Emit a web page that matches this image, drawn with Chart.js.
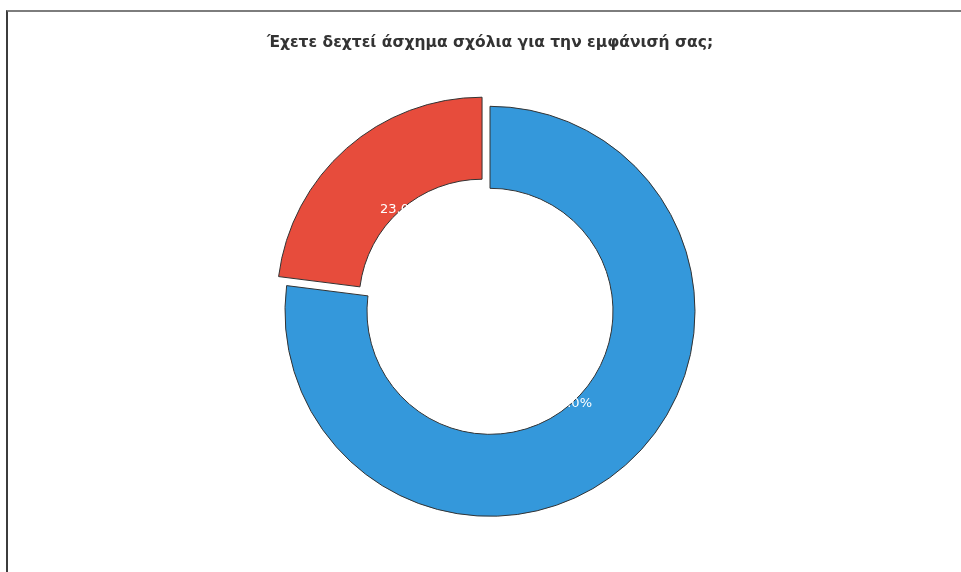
<!DOCTYPE html>
<html lang="el">
<head>
    <meta charset="UTF-8">
    <title>Σχόλια για την εμφάνιση</title>
    <style>
        body { margin: 0; background: #fff; }
        .frame {
            position: absolute;
            left: 6px;
            top: 10px;
            width: 1000px;
            height: 620px;
            border-top: 2px solid #7d7d7d;
            border-left: 2px solid #3c3c3c;
        }
        #myChart { position: absolute; left: 0; top: 0; }
    </style>
</head>
<body>
    <div class="frame"></div>
    <canvas id="myChart" width="961" height="572"></canvas>
    <script src="https://cdn.jsdelivr.net/npm/chart.js"></script>
    <script>
        // chart data
        const categories = ['Όχι', 'Ναι'];
        const values = [77.0, 23.0];
        const colors = ['#3498db', '#e74c3c'];
        const explode = [0, 48]; // chart.js arc offset (moves slice by offset/4)

        const total = values.reduce((a, b) => a + b, 0);

        // draws the % labels and then the white centre circle over them
        const pctLabels = {
            id: 'pctLabels',
            afterDatasetsDraw(chart) {
                const ctx = chart.ctx;
                const arcs = chart.getDatasetMeta(0).data;
                if (!arcs.length) return;
                const cx = arcs[0].x, cy = arcs[0].y;
                const inner = arcs[0].innerRadius;
                ctx.save();
                ctx.font = '13px "DejaVu Sans"';
                ctx.fillStyle = '#ffffff';
                ctx.textAlign = 'center';
                ctx.textBaseline = 'middle';
                arcs.forEach((arc, i) => {
                    const mid = (arc.startAngle + arc.endAngle) / 2;
                    const shift = explode[i] / 4;
                    const r = arc.outerRadius * 0.6;
                    const x = cx + Math.cos(mid) * (shift + r);
                    const y = cy + Math.sin(mid) * (shift + r);
                    ctx.fillText((values[i] / total * 100).toFixed(1) + '%', x, y);
                });
                ctx.beginPath();
                ctx.arc(cx, cy, inner - 1, 0, Math.PI * 2);
                ctx.fillStyle = '#ffffff';
                ctx.fill();
                ctx.restore();
            }
        };

        const ctx = document.getElementById('myChart').getContext('2d');
        const myChart = new Chart(ctx, {
            type: 'doughnut',
            data: {
                labels: categories,
                datasets: [{
                    data: values,
                    backgroundColor: colors,
                    borderColor: '#333333',
                    borderWidth: 1,
                    offset: explode
                }]
            },
            options: {
                responsive: false,
                animation: false,
                radius: 205,
                cutout: '60%',
                layout: { padding: { left: 19, right: 0, top: 0, bottom: 12 } },
                plugins: {
                    legend: { display: false },
                    tooltip: { enabled: false },
                    title: {
                        display: true,
                        text: 'Έχετε δεχτεί άσχημα σχόλια για την εμφάνισή σας;',
                        color: '#333333',
                        font: { family: 'DejaVu Sans', size: 15.5, weight: 'bold' },
                        padding: { top: 34, bottom: 10 }
                    }
                }
            },
            plugins: [pctLabels]
        });
    </script>
</body>
</html>
